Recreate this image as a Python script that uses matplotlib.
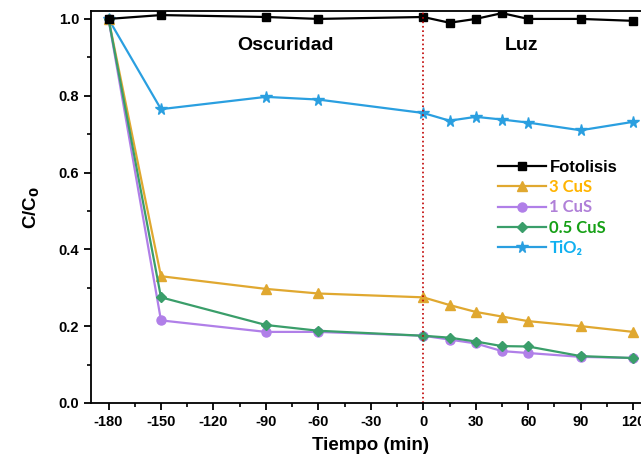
import matplotlib.pyplot as plt
from matplotlib.ticker import MultipleLocator

# time (min) and C/C0 values
tiempo = [-180, -150, -90, -60, 0, 15, 30, 45, 60, 90, 120]
fotolisis = [1.0, 1.01, 1.005, 1.0, 1.005, 0.99, 1.0, 1.015, 1.0, 1.0, 0.995]
cus_3 = [1.0, 0.33, 0.297, 0.285, 0.275, 0.255, 0.237, 0.225, 0.213, 0.2, 0.185]
cus_1 = [1.0, 0.215, 0.185, 0.185, 0.175, 0.165, 0.155, 0.135, 0.13, 0.12, 0.117]
cus_05 = [1.0, 0.275, 0.203, 0.188, 0.175, 0.17, 0.16, 0.148, 0.147, 0.122, 0.117]
tio2 = [1.0, 0.765, 0.797, 0.79, 0.755, 0.735, 0.745, 0.738, 0.73, 0.71, 0.732]

labels = ['Fotolisis', '3 CuS', '1 CuS', '0.5 CuS', 'TiO₂']
line_colors = ['black', '#E0A830', '#B07FE8', '#3A9E6A', '#2A9FE0']
text_colors = ['black', '#FFB400', '#B080D8', '#16A016', '#10B0F0']
markers = ['s', '^', 'o', 'D', '*']
marker_sizes = [5.5, 6.5, 6.5, 5.5, 8.5]

plt.rcParams['font.family'] = ['Liberation Sans', 'DejaVu Sans']
plt.rcParams['axes.unicode_minus'] = False

fig = plt.figure(figsize=(6.41, 4.68), dpi=100)
ax = fig.add_axes([0.142, 0.139, 0.873, 0.837])

series = [fotolisis, cus_3, cus_1, cus_05, tio2]
order = [4, 1, 2, 3, 0]
handles = {}
for i in order:
    h, = ax.plot(tiempo, series[i], color=line_colors[i], marker=markers[i],
                 markersize=marker_sizes[i], linewidth=1.6, label=labels[i])
    handles[i] = h

ax.axvline(0, color='#C00000', linestyle=':', linewidth=1.2)

ax.set_xlim(-190, 130)
ax.set_ylim(0, 1.02)
ax.xaxis.set_major_locator(MultipleLocator(30))
ax.xaxis.set_minor_locator(MultipleLocator(15))
ax.yaxis.set_major_locator(MultipleLocator(0.2))
ax.yaxis.set_minor_locator(MultipleLocator(0.1))
ax.yaxis.set_major_formatter(plt.FormatStrFormatter('%.1f'))
ax.tick_params(which='major', direction='out', length=5, width=1.3, labelsize=10.5)
ax.tick_params(which='minor', direction='out', length=3, width=1.2)
for lab in ax.get_xticklabels() + ax.get_yticklabels():
    lab.set_fontweight('bold')
for s in ax.spines.values():
    s.set_linewidth(1.3)

ax.set_xlabel('Tiempo (min)', fontsize=13.5, fontweight='bold', labelpad=6)
ax.set_ylabel('C/C$_\\mathbf{0}$', fontsize=13.5, fontweight='bold', labelpad=12)

ax.text(-79, 0.93, 'Oscuridad', fontsize=14, fontweight='bold', ha='center', va='center')
ax.text(56, 0.93, 'Luz', fontsize=14, fontweight='bold', ha='center', va='center')

leg = ax.legend([handles[i] for i in range(5)], labels, loc='upper left',
                bbox_to_anchor=(0.715, 0.637), frameon=False, handlelength=2.9,
                handletextpad=0.2, labelspacing=0.25, borderaxespad=0,
                prop={'family': ['Lato', 'DejaVu Sans'], 'weight': 'bold', 'size': 12})
for t, c in zip(leg.get_texts(), text_colors):
    t.set_color(c)
leg.get_texts()[0].set_fontfamily(['Liberation Sans', 'DejaVu Sans'])

fig.savefig('out.png', dpi=100)
